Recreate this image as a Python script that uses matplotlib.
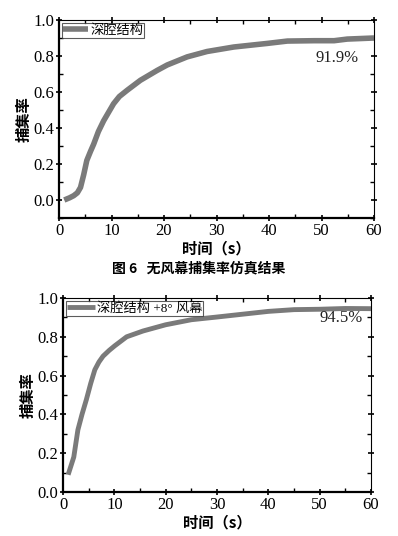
import matplotlib
matplotlib.use('Agg')
import matplotlib.pyplot as plt
from matplotlib.ticker import MultipleLocator

plt.rcParams['font.family'] = ['Liberation Serif', 'Noto Sans CJK SC']

# 无风幕 (deep cavity)
t1 = [1, 2, 2.8, 3.5, 4.1, 4.7, 5.3, 6, 6.6, 7.5, 8.5, 9.5, 10.4, 11.5, 13,
      15.5, 18.7, 20.6, 24.4, 28.2, 33.3, 39.7, 43.5, 48.6, 52.4, 54.9, 60]
r1 = [0.0, 0.012, 0.024, 0.04, 0.07, 0.14, 0.22, 0.27, 0.31, 0.38, 0.44,
      0.49, 0.535, 0.575, 0.61, 0.665, 0.72, 0.75, 0.795, 0.825, 0.85,
      0.87, 0.883, 0.885, 0.885, 0.894, 0.90]

# 深腔结构 +8° 风幕
t2 = [1, 2.1, 2.9, 3.7, 4.55, 5.4, 6.2, 7, 7.8, 9, 10.1, 12.4, 15.6, 20,
      25, 30, 40, 45, 50, 55, 60]
r2 = [0.089, 0.18, 0.32, 0.40, 0.476, 0.56, 0.63, 0.67, 0.70, 0.73, 0.754,
      0.80, 0.83, 0.862, 0.888, 0.902, 0.931, 0.94, 0.942, 0.946, 0.945]

label1 = '深腔结构'
label2 = '深腔结构 +8° 风幕'
note1 = '91.9%'
note2 = '94.5%'
caption = '图 6   无风幕捕集率仿真结果'

fig = plt.figure(figsize=(3.98, 5.36), dpi=100)
W, H = 398, 536
ax1 = fig.add_axes([59 / W, 1 - 218 / H, 315 / W, 198 / H])
ax2 = fig.add_axes([63 / W, 1 - 492 / H, 308 / W, 194 / H])

col = '#7a7a7a'
fs = 12
lfs = 9.5


def style(ax, ylo):
    ax.set_xlim(0, 60)
    ax.set_ylim(ylo, 1.0)
    ax.xaxis.set_major_locator(MultipleLocator(10))
    ax.xaxis.set_minor_locator(MultipleLocator(5))
    ax.yaxis.set_major_locator(MultipleLocator(0.2))
    ax.yaxis.set_minor_locator(MultipleLocator(0.1))
    ax.yaxis.set_major_formatter(plt.FormatStrFormatter('%.1f'))
    ax.tick_params(which='major', direction='inout', length=5, width=1.2,
                   labelsize=fs, top=True, right=True, pad=1)
    ax.tick_params(which='minor', direction='in', length=3, width=1,
                   top=True, right=True)
    for s in ['left', 'bottom']:
        ax.spines[s].set_linewidth(1.6)
    for s in ['top', 'right']:
        ax.spines[s].set_linewidth(0.8)
    ax.set_xlabel('时间（s）', fontsize=11, fontweight='bold',
                  family=['Noto Sans CJK SC'], labelpad=1)
    ax.set_ylabel('捕集率', fontsize=11, fontweight='bold',
                  family=['Noto Sans CJK SC'], labelpad=1)


ax1.plot(t1, r1, color=col, lw=4, label=label1, solid_capstyle='butt')
style(ax1, -0.1)
ax1.text(53, 0.79, note1, ha='center', va='center', fontsize=fs,
         color='#222222')
leg = ax1.legend(loc='upper left', prop={'family': ['Liberation Serif', 'Noto Sans CJK SC'], 'size': lfs},
                 handlelength=1.9, borderpad=0.1, borderaxespad=0.2,
                 handletextpad=0.15, fancybox=False, edgecolor='#333333')
leg.get_frame().set_linewidth(0.8)

ax2.plot(t2, r2, color=col, lw=3.5, label=label2, solid_capstyle='butt')
style(ax2, 0.0)
ax2.text(54.2, 0.895, note2, ha='center', va='center', fontsize=fs,
         color='#222222')
leg = ax2.legend(loc='upper left', prop={'family': ['Liberation Serif', 'Noto Sans CJK SC'], 'size': lfs},
                 handlelength=2.1, borderpad=0.1, borderaxespad=0.2,
                 handletextpad=0.15, fancybox=False, edgecolor='#333333')
leg.get_frame().set_linewidth(0.8)

fig.text(0.5, 1 - 268 / H, caption, ha='center', va='center', fontsize=10,
         fontweight='bold', family=['Noto Sans CJK SC'])

fig.savefig('out.png', dpi=100)
